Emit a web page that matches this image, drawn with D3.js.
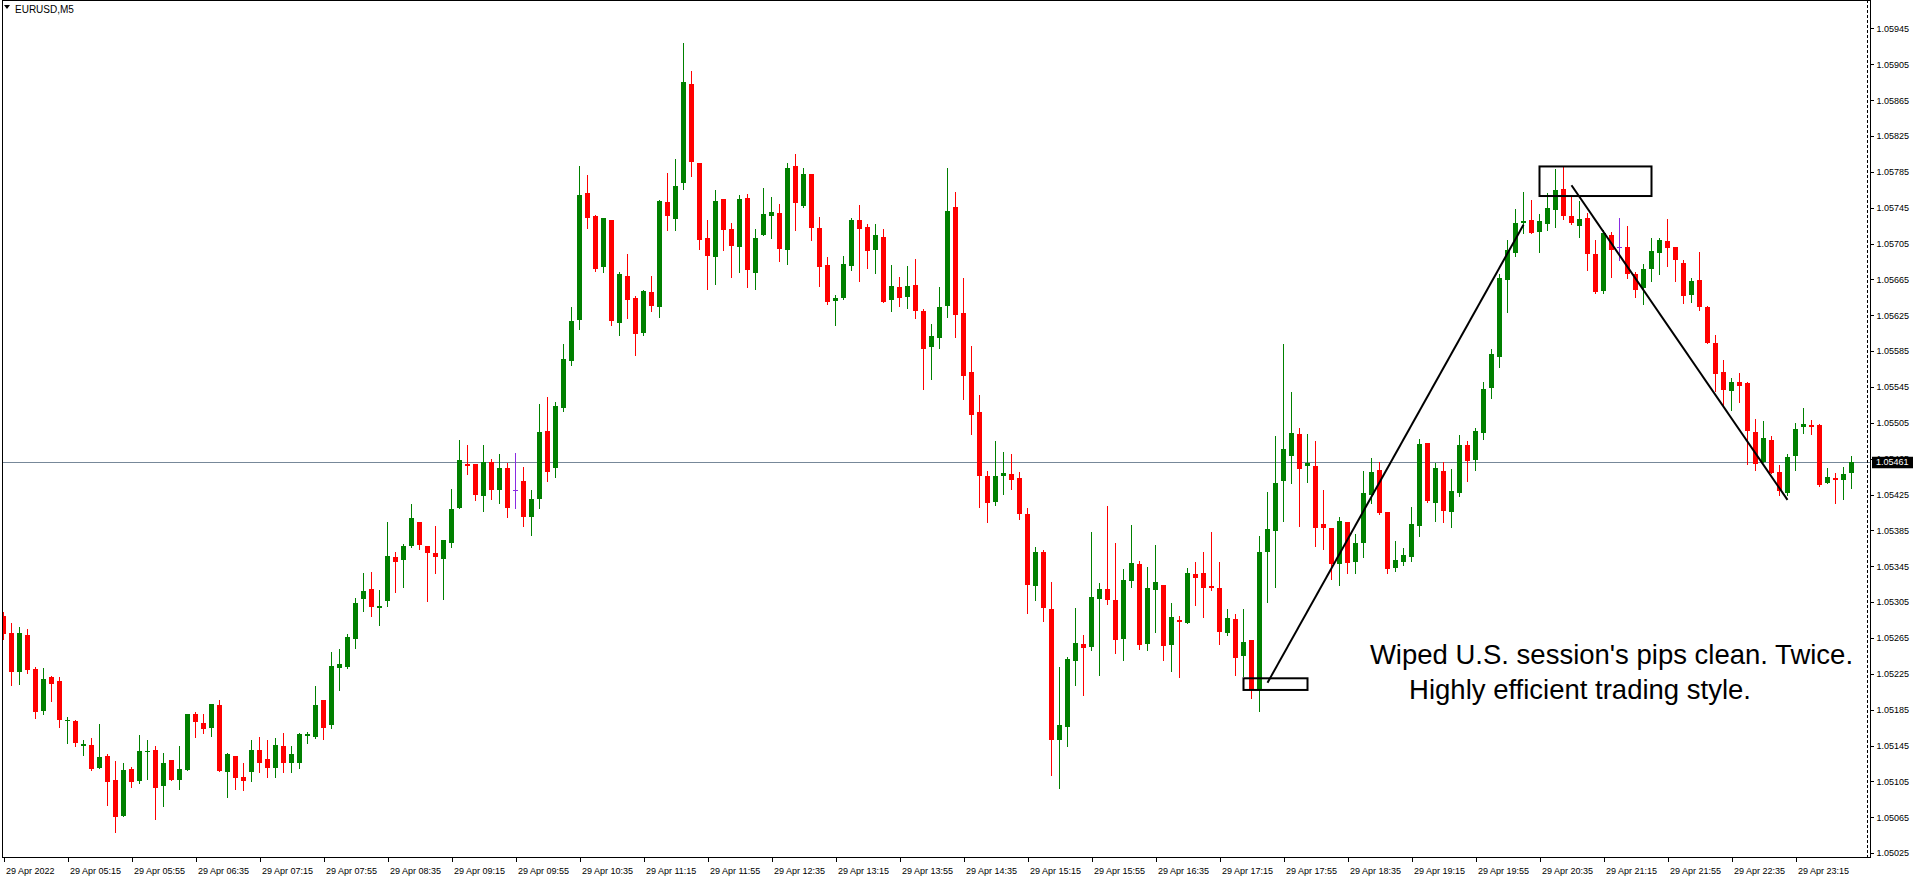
<!DOCTYPE html>
<html><head><meta charset="utf-8">
<script src="https://cdn.jsdelivr.net/npm/d3@7"></script>
<style>
html,body{margin:0;padding:0;background:#fff;overflow:hidden}
svg{display:block}
</style></head>
<body>
<svg id="chart" width="1916" height="880"></svg>
<script>
// ---------------- data ----------------
const symbolLabel = "EURUSD,M5";
const timeLabels = ["29 Apr 2022","29 Apr 05:15","29 Apr 05:55","29 Apr 06:35","29 Apr 07:15","29 Apr 07:55","29 Apr 08:35","29 Apr 09:15","29 Apr 09:55","29 Apr 10:35","29 Apr 11:15","29 Apr 11:55","29 Apr 12:35","29 Apr 13:15","29 Apr 13:55","29 Apr 14:35","29 Apr 15:15","29 Apr 15:55","29 Apr 16:35","29 Apr 17:15","29 Apr 17:55","29 Apr 18:35","29 Apr 19:15","29 Apr 19:55","29 Apr 20:35","29 Apr 21:15","29 Apr 21:55","29 Apr 22:35","29 Apr 23:15"];
const priceTicks = [1.05025,1.05065,1.05105,1.05145,1.05185,1.05225,1.05265,1.05305,1.05345,1.05385,1.05425,1.05465,1.05505,1.05545,1.05585,1.05625,1.05665,1.05705,1.05745,1.05785,1.05825,1.05865,1.05905,1.05945];
const currentPrice = 1.05461;

const opens = [
1.05290,1.05270,1.05227,1.05268,1.05230,1.05183,1.05222,1.05217,1.05172,1.05172,
1.05144,1.05146,1.05120,1.05133,1.05107,1.05066,1.05119,1.05105,1.05138,1.05140,
1.05100,1.05129,1.05106,1.05118,1.05180,1.05170,1.05164,1.05190,1.05116,1.05133,
1.05110,1.05115,1.05140,1.05130,1.05120,1.05144,1.05125,1.05125,1.05156,1.05154,
1.05196,1.05168,1.05232,1.05233,1.05264,1.05308,1.05320,1.05298,1.05306,1.05355,
1.05352,1.05368,1.05394,1.05368,1.05360,1.05353,1.05371,1.05410,1.05459,1.05459,
1.05423,1.05461,1.05430,1.05455,1.05430,1.05440,1.05400,1.05420,1.05496,1.05455,
1.05522,1.05574,1.05620,1.05761,1.05736,1.05679,1.05731,1.05616,1.05669,1.05644,
1.05605,1.05651,1.05634,1.05751,1.05732,1.05772,1.05883,1.05795,1.05711,1.05690,
1.05755,1.05721,1.05701,1.05756,1.05672,1.05714,1.05736,1.05739,1.05698,1.05792,
1.05747,1.05783,1.05722,1.05681,1.05641,1.05644,1.05680,1.05731,1.05724,1.05698,
1.05712,1.05642,1.05657,1.05645,1.05659,1.05630,1.05590,1.05600,1.05635,1.05746,
1.05628,1.05562,1.05517,1.05446,1.05417,1.05446,1.05448,1.05444,1.05403,1.05323,
1.05361,1.05297,1.05151,1.05166,1.05239,1.05258,1.05255,1.05309,1.05320,1.05307,
1.05264,1.05329,1.05348,1.05258,1.05319,1.05324,1.05257,1.05285,1.05282,1.05336,
1.05338,1.05323,1.05321,1.05271,1.05286,1.05245,1.05263,1.05207,1.05361,1.05384,
1.05440,1.05468,1.05493,1.05457,1.05457,1.05392,1.05388,1.05348,1.05394,1.05350,
1.05371,1.05425,1.05452,1.05406,1.05343,1.05350,1.05355,1.05390,1.05483,1.05416,
1.05451,1.05406,1.05427,1.05480,1.05464,1.05494,1.05544,1.05578,1.05664,1.05695,
1.05728,1.05731,1.05718,1.05727,1.05742,1.05766,1.05736,1.05725,1.05734,1.05693,
1.05652,1.05715,1.05701,1.05701,1.05671,1.05655,1.05677,1.05695,1.05708,1.05701,
1.05683,1.05648,1.05664,1.05634,1.05594,1.05562,1.05541,1.05551,1.05549,1.05495,
1.05461,1.05486,1.05450,1.05427,1.05468,1.05500,1.05503,1.05503,1.05438,1.05443,
1.05441,1.05449];
const highs = [
1.05294,1.05282,1.05277,1.05275,1.05233,1.05232,1.05223,1.05222,1.05177,1.05174,
1.05151,1.05153,1.05169,1.05136,1.05128,1.05126,1.05121,1.05157,1.05151,1.05145,
1.05137,1.05129,1.05145,1.05180,1.05182,1.05180,1.05191,1.05196,1.05137,1.05133,
1.05125,1.05151,1.05155,1.05151,1.05153,1.05159,1.05145,1.05159,1.05160,1.05211,
1.05196,1.05249,1.05253,1.05269,1.05310,1.05338,1.05339,1.05319,1.05394,1.05361,
1.05370,1.05414,1.05394,1.05368,1.05390,1.05374,1.05431,1.05486,1.05480,1.05459,
1.05480,1.05465,1.05470,1.05460,1.05471,1.05456,1.05430,1.05526,1.05534,1.05528,
1.05593,1.05634,1.05791,1.05782,1.05737,1.05734,1.05731,1.05673,1.05693,1.05647,
1.05653,1.05669,1.05754,1.05784,1.05799,1.05929,1.05898,1.05795,1.05731,1.05765,
1.05755,1.05728,1.05759,1.05760,1.05721,1.05767,1.05757,1.05749,1.05795,1.05805,
1.05789,1.05783,1.05735,1.05690,1.05648,1.05691,1.05733,1.05748,1.05727,1.05727,
1.05721,1.05681,1.05668,1.05680,1.05688,1.05632,1.05615,1.05656,1.05789,1.05763,
1.05667,1.05591,1.05536,1.05451,1.05485,1.05473,1.05470,1.05450,1.05410,1.05367,
1.05363,1.05327,1.05233,1.05244,1.05298,1.05268,1.05383,1.05326,1.05412,1.05371,
1.05342,1.05391,1.05351,1.05344,1.05369,1.05324,1.05304,1.05290,1.05343,1.05350,
1.05361,1.05383,1.05350,1.05297,1.05292,1.05297,1.05263,1.05379,1.05428,1.05490,
1.05593,1.05539,1.05499,1.05492,1.05485,1.05430,1.05388,1.05400,1.05394,1.05381,
1.05451,1.05466,1.05461,1.05406,1.05373,1.05365,1.05411,1.05487,1.05483,1.05460,
1.05461,1.05454,1.05491,1.05485,1.05499,1.05551,1.05587,1.05671,1.05709,1.05743,
1.05763,1.05754,1.05738,1.05761,1.05788,1.05790,1.05758,1.05753,1.05739,1.05709,
1.05720,1.05718,1.05734,1.05725,1.05673,1.05682,1.05711,1.05711,1.05732,1.05701,
1.05687,1.05667,1.05696,1.05635,1.05603,1.05575,1.05555,1.05561,1.05551,1.05509,
1.05507,1.05490,1.05458,1.05470,1.05505,1.05521,1.05508,1.05504,1.05455,1.05449,
1.05456,1.05468];
const lows = [
1.05264,1.05213,1.05214,1.05226,1.05176,1.05180,1.05195,1.05166,1.05148,1.05144,
1.05134,1.05118,1.05120,1.05079,1.05049,1.05066,1.05099,1.05103,1.05108,1.05063,
1.05078,1.05107,1.05097,1.05118,1.05154,1.05159,1.05156,1.05117,1.05088,1.05096,
1.05095,1.05105,1.05115,1.05110,1.05110,1.05115,1.05115,1.05120,1.05148,1.05153,
1.05152,1.05164,1.05207,1.05231,1.05254,1.05295,1.05289,1.05280,1.05301,1.05316,
1.05322,1.05366,1.05364,1.05306,1.05337,1.05309,1.05367,1.05410,1.05448,1.05419,
1.05407,1.05420,1.05415,1.05400,1.05410,1.05390,1.05380,1.05410,1.05440,1.05445,
1.05518,1.05570,1.05610,1.05722,1.05674,1.05673,1.05614,1.05603,1.05622,1.05581,
1.05603,1.05630,1.05623,1.05720,1.05720,1.05766,1.05780,1.05699,1.05654,1.05660,
1.05698,1.05668,1.05673,1.05657,1.05654,1.05714,1.05711,1.05685,1.05682,1.05720,
1.05746,1.05709,1.05658,1.05637,1.05614,1.05643,1.05676,1.05663,1.05678,1.05672,
1.05640,1.05630,1.05635,1.05633,1.05622,1.05543,1.05554,1.05589,1.05623,1.05601,
1.05532,1.05492,1.05411,1.05394,1.05413,1.05426,1.05431,1.05398,1.05293,1.05307,
1.05284,1.05112,1.05098,1.05145,1.05213,1.05201,1.05252,1.05224,1.05303,1.05248,
1.05240,1.05322,1.05253,1.05252,1.05272,1.05240,1.05228,1.05222,1.05282,1.05302,
1.05288,1.05319,1.05258,1.05268,1.05224,1.05223,1.05198,1.05184,1.05305,1.05322,
1.05396,1.05438,1.05390,1.05439,1.05368,1.05364,1.05331,1.05324,1.05338,1.05338,
1.05355,1.05415,1.05403,1.05338,1.05340,1.05346,1.05351,1.05379,1.05417,1.05396,
1.05394,1.05389,1.05423,1.05440,1.05452,1.05487,1.05533,1.05567,1.05629,1.05691,
1.05717,1.05717,1.05696,1.05720,1.05723,1.05732,1.05727,1.05712,1.05676,1.05650,
1.05650,1.05668,1.05687,1.05667,1.05645,1.05638,1.05663,1.05671,1.05680,1.05663,
1.05639,1.05640,1.05631,1.05594,1.05541,1.05525,1.05519,1.05528,1.05459,1.05452,
1.05461,1.05449,1.05425,1.05425,1.05452,1.05494,1.05492,1.05434,1.05438,1.05416,
1.05420,1.05432];
const closes = [
1.05269,1.05227,1.05270,1.05229,1.05182,1.05219,1.05214,1.05173,1.05174,1.05148,
1.05147,1.05119,1.05132,1.05104,1.05065,1.05118,1.05104,1.05139,1.05139,1.05098,
1.05126,1.05107,1.05119,1.05180,1.05171,1.05163,1.05191,1.05117,1.05136,1.05109,
1.05105,1.05140,1.05125,1.05120,1.05146,1.05125,1.05135,1.05158,1.05158,1.05190,
1.05165,1.05234,1.05236,1.05266,1.05304,1.05317,1.05299,1.05301,1.05356,1.05350,
1.05368,1.05399,1.05369,1.05360,1.05355,1.05374,1.05409,1.05464,1.05457,1.05424,
1.05461,1.05430,1.05455,1.05410,1.05430,1.05400,1.05420,1.05495,1.05450,1.05524,
1.05576,1.05619,1.05759,1.05734,1.05677,1.05734,1.05619,1.05671,1.05642,1.05604,
1.05652,1.05635,1.05753,1.05736,1.05769,1.05885,1.05796,1.05709,1.05691,1.05753,
1.05720,1.05702,1.05755,1.05676,1.05711,1.05738,1.05740,1.05699,1.05789,1.05750,
1.05783,1.05722,1.05679,1.05640,1.05644,1.05682,1.05731,1.05721,1.05697,1.05714,
1.05640,1.05658,1.05644,1.05658,1.05630,1.05587,1.05602,1.05634,1.05741,1.05625,
1.05557,1.05514,1.05446,1.05416,1.05446,1.05449,1.05441,1.05403,1.05324,1.05361,
1.05298,1.05151,1.05168,1.05242,1.05259,1.05254,1.05311,1.05320,1.05307,1.05263,
1.05330,1.05349,1.05257,1.05321,1.05327,1.05256,1.05288,1.05283,1.05338,1.05332,
1.05321,1.05321,1.05272,1.05287,1.05243,1.05261,1.05207,1.05361,1.05387,1.05438,
1.05476,1.05494,1.05454,1.05460,1.05388,1.05388,1.05348,1.05396,1.05349,1.05371,
1.05427,1.05450,1.05404,1.05342,1.05352,1.05358,1.05392,1.05481,1.05418,1.05455,
1.05407,1.05429,1.05480,1.05462,1.05496,1.05543,1.05582,1.05667,1.05698,1.05728,
1.05730,1.05717,1.05730,1.05745,1.05765,1.05736,1.05728,1.05732,1.05693,1.05651,
1.05717,1.05698,1.05701,1.05671,1.05653,1.05677,1.05697,1.05709,1.05700,1.05687,
1.05647,1.05663,1.05634,1.05594,1.05560,1.05542,1.05550,1.05546,1.05496,1.05459,
1.05488,1.05449,1.05429,1.05467,1.05498,1.05504,1.05500,1.05436,1.05445,1.05441,
1.05448,1.05461];

// annotations: [bar index, price]
const trendUp = [[158, 1.05215], [190, 1.05726]];
const trendDown = [[196, 1.05770], [223, 1.05419]];
const boxLow = [[155, 1.05220], [163, 1.05207]];
const boxHigh = [[192, 1.05791], [206, 1.05758]];
const noteLines = ["Wiped U.S. session's pips clean. Twice.", "Highly efficient trading style."];
const noteAnchors = [[170.8, 1.05236], [175.7, 1.05197]];

// ---------------- layout ----------------
const W = 1916, H = 880;
const plotLeft = 2, plotRight = 1870, plotBottom = 857;
const barStep = 8;
const n = opens.length;

const svg = d3.select("#chart");
svg.append("rect").attr("width", W).attr("height", H).attr("fill", "#fff");

const x = d3.scaleLinear().domain([0, n - 1]).range([3.5, 3.5 + barStep * (n - 1)]);
const y = d3.scaleLinear().domain([1.05025, 1.05945]).range([853.1, 28.4]);

svg.append("defs").append("clipPath").attr("id", "plotclip")
  .append("rect").attr("x", plotLeft + 1).attr("y", 0).attr("width", 1867 - plotLeft - 1).attr("height", plotBottom);

// current price line
svg.append("line")
  .attr("x1", plotLeft).attr("x2", plotRight)
  .attr("y1", Math.round(y(currentPrice)) + 0.5).attr("y2", Math.round(y(currentPrice)) + 0.5)
  .attr("stroke", "#778899").attr("stroke-width", 1);

// candles
const bars = d3.range(n).map(i => ({i, o: opens[i], h: highs[i], l: lows[i], c: closes[i]}));
const colorOf = d => d.c > d.o ? "#008000" : (d.c < d.o ? "#ff0000" : "#8a2be2");
const g = svg.append("g").attr("clip-path", "url(#plotclip)").attr("shape-rendering", "crispEdges");
const cg = g.selectAll("g.c").data(bars).join("g").attr("class", "c");
cg.append("rect")
  .attr("x", d => x(d.i) - 0.5)
  .attr("width", 1)
  .attr("y", d => Math.round(y(d.h)))
  .attr("height", d => Math.max(1, Math.round(y(d.l)) - Math.round(y(d.h)) + 1))
  .attr("fill", colorOf);
cg.append("rect")
  .attr("x", d => x(d.i) - 2.5)
  .attr("width", 5)
  .attr("y", d => Math.round(y(Math.max(d.o, d.c))))
  .attr("height", d => Math.max(1, Math.round(y(Math.min(d.o, d.c))) - Math.round(y(Math.max(d.o, d.c)))))
  .attr("fill", colorOf);

// annotations
const ann = svg.append("g").attr("clip-path", "url(#plotclip)");
[trendUp, trendDown].forEach(seg => {
  ann.append("line")
    .attr("x1", x(seg[0][0])).attr("y1", y(seg[0][1]))
    .attr("x2", x(seg[1][0])).attr("y2", y(seg[1][1]))
    .attr("stroke", "#000").attr("stroke-width", 2);
});
[boxLow, boxHigh].forEach(b => {
  ann.append("rect")
    .attr("x", x(b[0][0])).attr("y", y(b[0][1]))
    .attr("width", x(b[1][0]) - x(b[0][0])).attr("height", y(b[1][1]) - y(b[0][1]))
    .attr("fill", "none").attr("stroke", "#000").attr("stroke-width", 2);
});
noteLines.forEach((t, k) => {
  svg.append("text")
    .attr("x", x(noteAnchors[k][0])).attr("y", y(noteAnchors[k][1]))
    .attr("font-family", "'Liberation Sans', Arial, sans-serif")
    .attr("font-size", 27.5).attr("fill", "#000")
    .text(t);
});

// frame
const frame = svg.append("g").attr("shape-rendering", "crispEdges");
frame.append("line").attr("x1", plotLeft + 0.5).attr("x2", plotLeft + 0.5).attr("y1", 0).attr("y2", plotBottom).attr("stroke", "#000");
frame.append("line").attr("x1", plotLeft).attr("x2", plotRight).attr("y1", 0.5).attr("y2", 0.5).attr("stroke", "#000");
frame.append("line").attr("x1", 1867.5).attr("x2", 1867.5).attr("y1", 0).attr("y2", plotBottom)
  .attr("stroke", "#000").attr("stroke-dasharray", "3,2");

// right price axis
const yAxis = d3.axisRight(y).tickValues(priceTicks).tickSize(3).tickPadding(3).tickFormat(d3.format(".5f"));
const ya = svg.append("g").attr("transform", `translate(${plotRight + 0.5},0)`).call(yAxis);
ya.select(".domain").remove();
ya.selectAll("line").attr("stroke", "#000").attr("shape-rendering", "crispEdges");
ya.selectAll("text").attr("font-family", "'Liberation Sans', Arial, sans-serif").attr("font-size", 9).attr("fill", "#000");
svg.append("line").attr("x1", plotRight + 0.5).attr("x2", plotRight + 0.5).attr("y1", 0).attr("y2", plotBottom + 1)
  .attr("stroke", "#000").attr("shape-rendering", "crispEdges");

// current price tag
const tagY = y(currentPrice);
svg.append("rect").attr("x", plotRight + 2).attr("y", tagY - 5.5).attr("width", 41).attr("height", 11.5).attr("fill", "#000");
svg.append("text").attr("x", plotRight + 6).attr("y", tagY).attr("dy", "0.32em")
  .attr("font-family", "'Liberation Sans', Arial, sans-serif").attr("font-size", 9).attr("fill", "#fff")
  .text(d3.format(".5f")(currentPrice));

// bottom time axis
const tickIdx = timeLabels.map((_, k) => k * barStep);
const xAxis = d3.axisBottom(x).tickValues(tickIdx).tickSize(4).tickPadding(6).tickFormat((d, k) => timeLabels[k]);
const xa = svg.append("g").attr("transform", `translate(0,${plotBottom + 0.5})`).call(xAxis);
xa.select(".domain").remove();
xa.selectAll("line").attr("stroke", "#000").attr("shape-rendering", "crispEdges");
xa.selectAll("text").attr("text-anchor", "start").attr("x", 2)
  .attr("font-family", "'Liberation Sans', Arial, sans-serif").attr("font-size", 9).attr("fill", "#000");
svg.append("line").attr("x1", plotLeft).attr("x2", plotRight + 1).attr("y1", plotBottom + 0.5).attr("y2", plotBottom + 0.5)
  .attr("stroke", "#000").attr("shape-rendering", "crispEdges");

// symbol title
svg.append("path").attr("d", "M4,5 L10,5 L7,9 Z").attr("fill", "#000");
svg.append("text").attr("x", 15).attr("y", 13)
  .attr("font-family", "'Liberation Sans', Arial, sans-serif").attr("font-size", 10).attr("fill", "#000")
  .text(symbolLabel);
</script>
</body></html>
